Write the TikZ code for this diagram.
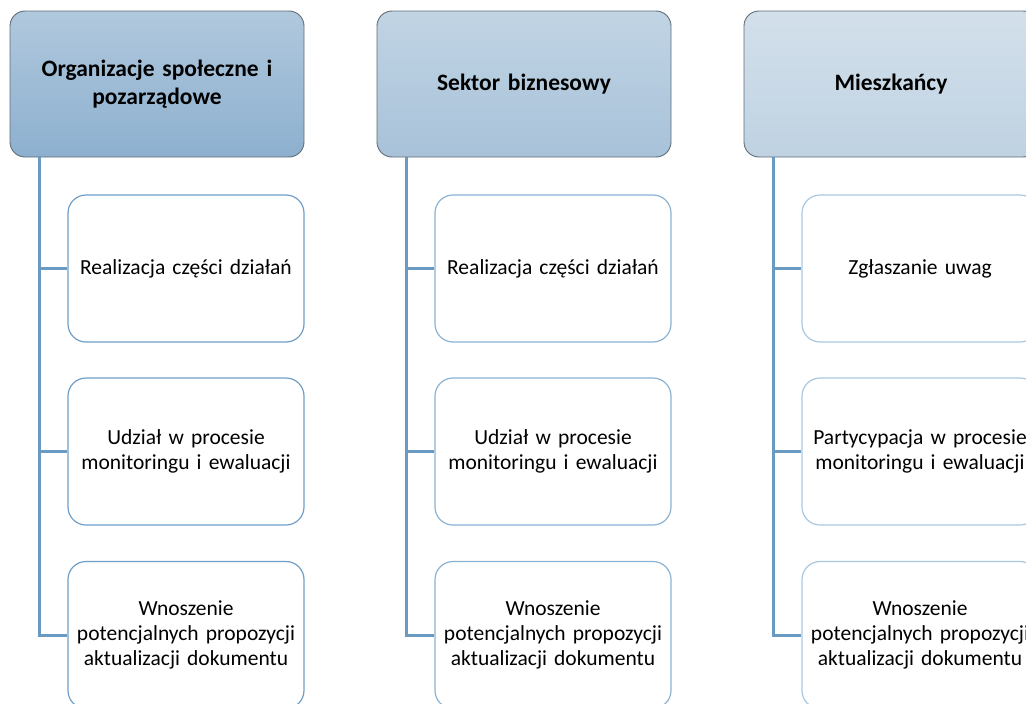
\documentclass[tikz,border=0pt]{standalone}
\usepackage{fontspec}
\setmainfont{Carlito}
\definecolor{conn}{HTML}{6A99C2}
\definecolor{hborder}{HTML}{5F6B75}
\definecolor{hAtop}{HTML}{B0C8DD}
\definecolor{hAbot}{HTML}{8DB0CF}
\definecolor{hBtop}{HTML}{C1D4E4}
\definecolor{hBbot}{HTML}{A8C2D9}
\definecolor{hCtop}{HTML}{D3E0EB}
\definecolor{hCbot}{HTML}{BFD2E2}
\definecolor{cA}{HTML}{6F9FC8}
\definecolor{cB}{HTML}{8AB3D4}
\definecolor{cC}{HTML}{A9C8E0}
\tikzset{
  header/.style={draw=hborder, line width=0.9pt, rounded corners=15pt,
    minimum width=294pt, minimum height=146pt, inner sep=0pt,
    align=center, text width=280pt,
    font=\fontsize{23.5}{28}\selectfont\bfseries},
  child/.style={draw=#1, fill=white, line width=1.2pt, rounded corners=18pt,
    minimum width=236pt, minimum height=147pt, inner sep=0pt,
    align=center, text width=232pt,
    font=\fontsize{21.5}{25}\selectfont},
  link/.style={draw=conn, line width=3pt}
}
\begin{document}
\begin{tikzpicture}[x=1pt,y=1pt]
\useasboundingbox (0,0) rectangle (1026,-704);
\clip (0,0) rectangle (1026,-704);
% headers
\node[header, top color=hAtop, bottom color=hAbot] (h1) at (157,-84) {Organizacje społeczne i\\pozarządowe};
\node[header, top color=hBtop, bottom color=hBbot] (h2) at (524,-84) {Sektor biznesowy};
\node[header, top color=hCtop, bottom color=hCbot] (h3) at (891,-84) {Mieszkańcy};
% children column 1
\node[child=cA] (c11) at (186,-268.5) {Realizacja części działań};
\node[child=cA] (c12) at (186,-451.5) {Udział w procesie\\monitoringu i ewaluacji};
\node[child=cA] (c13) at (186,-635) {Wnoszenie\\potencjalnych propozycji\\aktualizacji dokumentu};
% column 2
\node[child=cB] (c21) at (553,-268.5) {Realizacja części działań};
\node[child=cB] (c22) at (553,-451.5) {Udział w procesie\\monitoringu i ewaluacji};
\node[child=cB] (c23) at (553,-635) {Wnoszenie\\potencjalnych propozycji\\aktualizacji dokumentu};
% column 3
\node[child=cC] (c31) at (920,-268.5) {Zgłaszanie uwag};
\node[child=cC] (c32) at (920,-451.5) {Partycypacja w procesie\\monitoringu i ewaluacji};
\node[child=cC] (c33) at (920,-635) {Wnoszenie\\potencjalnych propozycji\\aktualizacji dokumentu};
% connectors
\foreach \h/\a/\b/\c in {h1/c11/c12/c13, h2/c21/c22/c23, h3/c31/c32/c33}{
  \coordinate (\h top) at ([xshift=29.5pt]\h.south west);
  \draw[link] (\h top) |- (\a.west);
  \draw[link] (\h top) |- (\b.west);
  \draw[link, line join=miter] (\h top) |- (\c.west);
}
\end{tikzpicture}
\end{document}
